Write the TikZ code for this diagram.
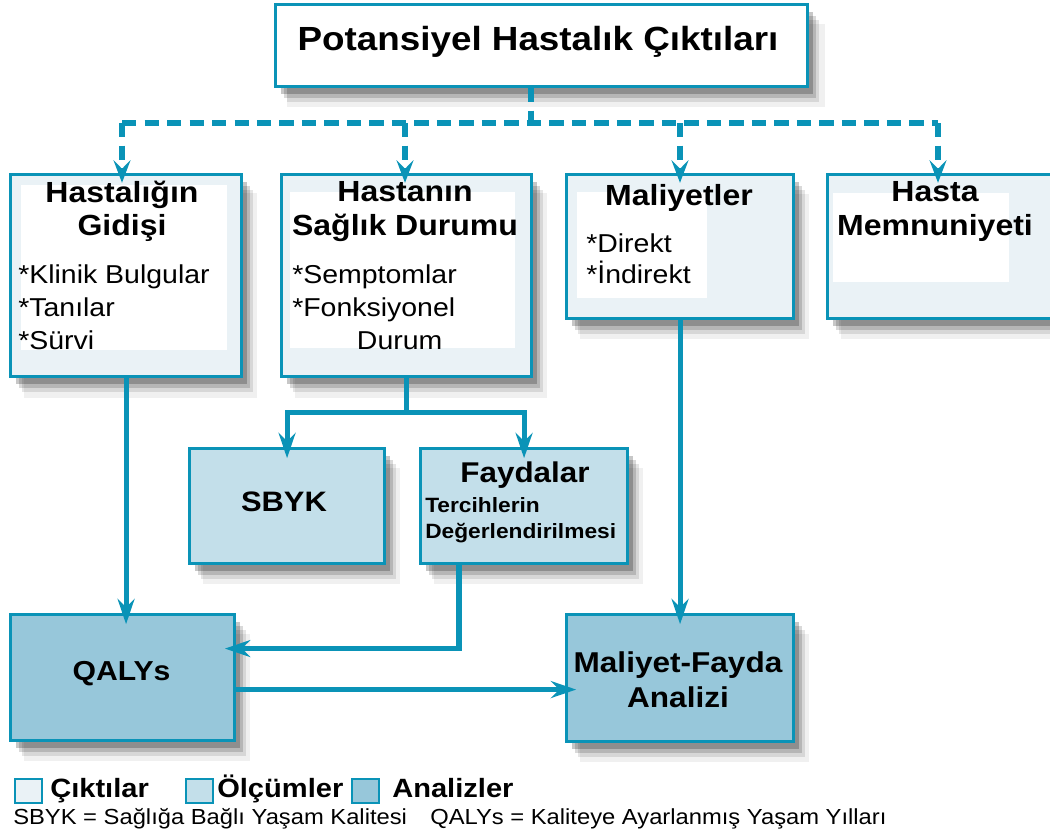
\documentclass[tikz,border=0pt]{standalone}
\usepackage{fontspec}
\setmainfont[FakeStretch=1.1]{Liberation Sans}
\newfontfamily\notefont[FakeStretch=1.09]{Liberation Sans}
\usetikzlibrary{positioning,calc,arrows.meta,shadows}

\definecolor{edgeblue}{HTML}{0A93B7}
\definecolor{outfill}{HTML}{EAF2F6}
\definecolor{measfill}{HTML}{C3DFEA}
\definecolor{anafill}{HTML}{97C7DA}

\newcommand{\fsz}[2]{\fontsize{#1}{#2}\selectfont}

\begin{document}
\begin{tikzpicture}[x=0.025cm, y=-0.025cm,
        box/.style={rectangle, draw=edgeblue, line width=2.2pt, anchor=north west, inner sep=0pt,
            general shadow={fill=black, opacity=0.06, shadow xshift=10pt, shadow yshift=-14pt, shadow scale=1.01},
            general shadow={fill=black, opacity=0.10, shadow xshift=8pt, shadow yshift=-11pt},
            general shadow={fill=black, opacity=0.15, shadow xshift=6pt, shadow yshift=-8pt},
            general shadow={fill=black, opacity=0.22, shadow xshift=4pt, shadow yshift=-5pt}},
        outbox/.style={box, fill=outfill},
        measbox/.style={box, fill=measfill},
        anabox/.style={box, fill=anafill},
        innerwhite/.style={fill=white, draw=none},
        head/.style={anchor=north, align=center, inner sep=0pt, font=\bfseries\fsz{20.7}{24}},
        items/.style={anchor=north west, align=left, inner sep=0pt, font=\fsz{18.4}{23.5}},
        flow/.style={draw=edgeblue, line width=3.6pt},
        flowarrow/.style={flow, -{Stealth[length=18pt, width=12pt, inset=6pt]}, shorten >=-8pt},
        dashflow/.style={flow, line width=4pt, dash pattern=on 10pt off 6pt},
        dasharrow/.style={dashflow, -{Stealth[length=16pt, width=12pt, inset=6pt]}, shorten >=-7pt},
        keybox/.style={rectangle, draw=edgeblue, line width=1.5pt, minimum width=0.675cm, minimum height=0.6cm, inner sep=0pt, anchor=north west},
        keytext/.style={anchor=base west, inner sep=0pt, font=\bfseries\fsz{18.8}{22}}
    ]

    \useasboundingbox[fill=white] (0,0) rectangle (1050,836);

    % Top box
    \node[box, fill=white, minimum width=13.3cm, minimum height=2.05cm] (top) at (274,3) {};
    \node[inner sep=0pt, font=\bfseries\fsz{23.8}{28}] (toptext) at (538,42) {Potansiyel Hastalık Çıktıları};

    % Outcome boxes
    \node[outbox, minimum width=5.775cm, minimum height=5.05cm] (gidis) at (9,173) {};
    \node[outbox, minimum width=6.25cm, minimum height=5.05cm] (durum) at (280,173) {};
    \node[outbox, minimum width=5.675cm, minimum height=3.6cm] (maliyet) at (565,173) {};
    \node[outbox, minimum width=6.1cm, minimum height=3.6cm] (memnun) at (826,173) {};

    \fill[innerwhite] (21,185) rectangle (227,350);
    \fill[innerwhite] (290,192) rectangle (515,348);
    \fill[innerwhite] (577,192) rectangle (707,298);
    \fill[innerwhite] (833,193) rectangle (1009,282);

    \node[head] (gidishead) at (122,180.5) {Hastalığın\\Gidişi};
    \node[items] (gidisitems) at (18,264.5) {*Klinik Bulgular\\*Tanılar\\*Sürvi};
    \node[head] (durumhead) at (405,181) {Hastanın\\Sağlık Durumu};
    \node[items] (durumitems) at (292,264.5) {*Semptomlar\\*Fonksiyonel\\\hspace*{46pt}Durum};
    \node[head] (maliyethead) at (679,184) {Maliyetler};
    \node[items, font=\fsz{18.4}{22}] (maliyetitems) at (586,233.5) {*Direkt\\*İndirekt};
    \node[head] (memnunhead) at (935,181) {Hasta\\Memnuniyeti};

    % Measurement boxes
    \node[measbox, minimum width=4.875cm, minimum height=2.875cm] (sbyk) at (188,447) {};
    \node[font=\bfseries\fsz{20}{24}, inner sep=0pt] (sbyktext) at (284,502) {SBYK};
    \node[measbox, minimum width=5.175cm, minimum height=2.875cm] (fayda) at (419,447) {};
    \node[head, font=\bfseries\fsz{20.3}{24}] (faydahead) at (525,461.5) {Faydalar};
    \node[items, font=\bfseries\fsz{14.7}{18.5}] (faydaitems) at (425,497) {Tercihlerin\\Değerlendirilmesi};

    % Analysis boxes
    \node[anabox, minimum width=5.6cm, minimum height=3.15cm] (qalys) at (9,613) {};
    \node[anchor=base, font=\bfseries\fsz{19.5}{24}, inner sep=0pt] (qalystext) at (121.5,680) {QALYs};
    \node[anabox, minimum width=5.675cm, minimum height=3.175cm] (mfa) at (565,613) {};
    \node[anchor=north, align=center, inner sep=0pt, font=\bfseries\fsz{20.4}{25}] (mfatext) at (678,651.5) {Maliyet-Fayda\\Analizi};

    % Dashed distribution
    \coordinate (hub) at (531,123);
    \coordinate (d1) at (122,123);
    \coordinate (d2) at (405,123);
    \coordinate (d3) at (680,123);
    \coordinate (d4) at (938,123);
    \draw[dashflow] (top.south -| hub) -- (hub);
    \draw[dashflow] (d1) -- (d4);
    \draw[dasharrow] (d1) -- (d1 |- gidis.north);
    \draw[dasharrow] (d2) -- (d2 |- durum.north);
    \draw[dasharrow] (d3) -- (d3 |- maliyet.north);
    \draw[dasharrow] (d4) -- (d4 |- memnun.north);

    % Solid connectors
    \coordinate (split) at ($(durum.south)+(0,34)$);
    \coordinate (q2m) at ($(qalys.east)+(0,12)$);
    \draw[flow] (durum.south) -- (split);
    \draw[flowarrow] (split) -| (sbyk.north);
    \draw[flowarrow] (split) -| (fayda.north);
    \draw[flowarrow] (gidis.south) -- (gidis.south |- qalys.north);
    \draw[flowarrow] ($(fayda.south west)+(40,0)$) |- ($(qalys.east)+(0,-29)$);
    \draw[flowarrow] (q2m) -- (q2m -| mfa.west);
    \draw[flowarrow] (maliyet.south) -- (maliyet.south |- mfa.north);

    % Legend
    \node[keybox, fill=outfill] (keyout) at (14,778) {};
    \node[keytext] (keyouttext) at (50,797) {Çıktılar};
    \node[keybox, fill=measfill] (keymeas) at (185,778) {};
    \node[keytext] (keymeastext) at (217,797) {Ölçümler};
    \node[keybox, fill=anafill] (keyana) at (351,778) {};
    \node[keytext] (keyanatext) at (392,797) {Analizler};
    \node[anchor=base west, inner sep=0pt, font=\notefont\fsz{15.5}{18}] (note1) at (13,824) {SBYK = Sağlığa Bağlı Yaşam Kalitesi};
    \node[anchor=base west, inner sep=0pt, font=\notefont\fsz{15.5}{18}] (note2) at (430,824) {QALYs = Kaliteye Ayarlanmış Yaşam Yılları};

\end{tikzpicture}
\end{document}
